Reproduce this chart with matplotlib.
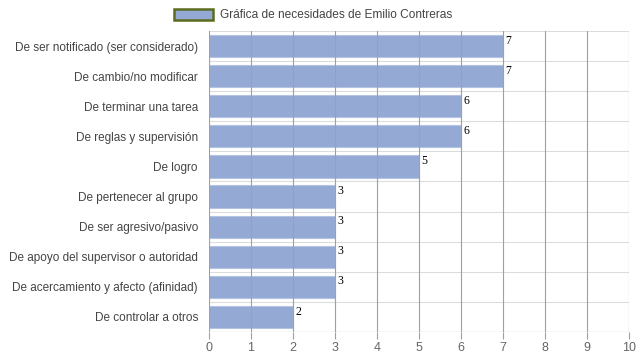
import matplotlib
matplotlib.use("Agg")
import matplotlib.pyplot as plt
from matplotlib.patches import Patch
import numpy as np

categories = [
    "De ser notificado (ser considerado)",
    "De cambio/no modificar",
    "De terminar una tarea",
    "De reglas y supervisión",
    "De logro",
    "De pertenecer al grupo",
    "De ser agresivo/pasivo",
    "De apoyo del supervisor o autoridad",
    "De acercamiento y afecto (afinidad)",
    "De controlar a otros",
]
values = [7, 7, 6, 6, 5, 3, 3, 3, 3, 2]
series_name = "Gráfica de necesidades de Emilio Contreras"

plt.rcParams["font.family"] = ["Liberation Sans", "DejaVu Sans"]

fig = plt.figure(figsize=(6.39, 3.6), dpi=100)
ax = fig.add_axes([209 / 639, 28 / 360, 420 / 639, 301 / 360])

y = np.arange(len(categories))
bar_color = "#94a9d4"
ax.barh(y, values, height=0.74, color=bar_color, edgecolor="#b5c3e2",
        linewidth=0.8, zorder=2)

for yi, v in zip(y, values):
    ax.text(v + 0.05, yi - 0.18, str(v), fontsize=8.5, family="Liberation Serif",
            color="black", va="center", ha="left", zorder=4)

ax.set_xlim(0, 10)
ax.set_ylim(len(categories) - 0.5, -0.5)
ax.set_xticks(np.arange(0, 11))
ax.set_yticks(y)
ax.set_yticklabels(categories)

# vertical grid over bars
for xv in range(1, 11):
    ax.axvline(xv, color="#a0a0a0", linewidth=0.8, zorder=3)
# horizontal separators
for b in np.arange(-0.5, len(categories), 1):
    ax.axhline(b, color="#dcdcdc", linewidth=0.8, zorder=1)
ax.axvline(0, color="#a0a0a0", linewidth=0.8, zorder=3)

for s in ax.spines.values():
    s.set_visible(False)
ax.axhline(len(categories) - 0.5, color="#a0a0a0", linewidth=0.8, zorder=3)

ax.tick_params(axis="y", length=0, pad=8, labelsize=8.45, labelcolor="#444444")
ax.tick_params(axis="x", length=5, color="#a0a0a0", pad=2, labelsize=9,
               labelcolor="#666666")

handle = Patch(facecolor=bar_color, edgecolor="#5b6b1f", linewidth=1.8)
leg = fig.legend([handle], [series_name], loc="center", frameon=False,
                 fontsize=8.6, handlelength=3.3, handleheight=1.1,
                 handletextpad=0.6, labelcolor="#444444")
leg.set_bbox_to_anchor((0.49, 1 - 15 / 360))

fig.savefig("out.png", dpi=100)
